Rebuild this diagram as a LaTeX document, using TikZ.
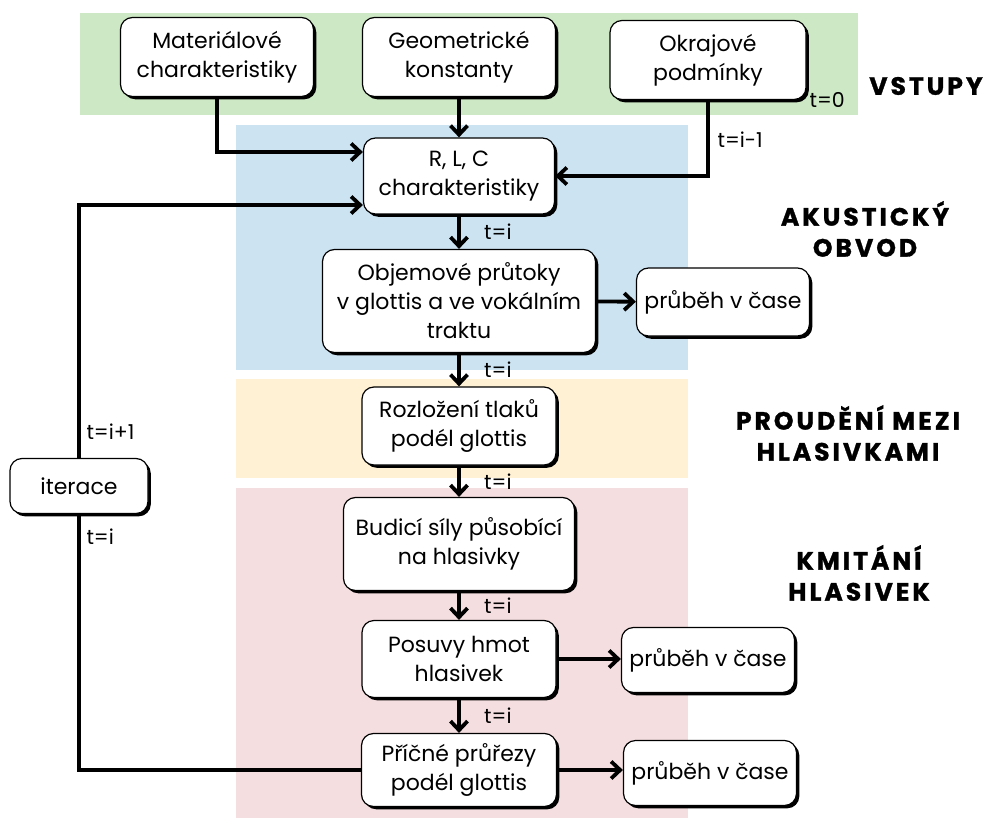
\documentclass[tikz,border=0pt]{standalone}
\usepackage{fontspec}
\setmainfont{Poppins}
\newfontfamily\headfont[LetterSpace=12, BoldFeatures={FakeBold=1.2}]{Poppins}
\usetikzlibrary{arrows.meta,shadows,positioning}

\definecolor{bggreen}{RGB}{205,232,196}
\definecolor{bgblue}{RGB}{204,228,242}
\definecolor{bgyellow}{RGB}{255,241,211}
\definecolor{bgpink}{RGB}{245,222,224}

\tikzset{
  box/.style={draw, line width=1.2pt, rounded corners=12pt, fill=white, align=center,
    font=\fontsize{22}{29}\selectfont, inner sep=1pt,
    drop shadow={shadow xshift=2.8pt, shadow yshift=-2.8pt, fill=black, opacity=1}},
  flow/.style={line width=3.8pt, -{Straight Barb[length=9pt, width=17pt]}},
  plain/.style={line width=3.8pt},
  tlab/.style={font=\fontsize{20.5}{22}\selectfont, anchor=west},
  head/.style={font=\headfont\bfseries\fontsize{25}{31}\selectfont, align=center},
}

\begin{document}
\begin{tikzpicture}[x=1pt, y=-1pt]
  \useasboundingbox (0,0) rectangle (987,818);

  % colour bands
  \fill[bggreen]  (80,13)  rectangle (858,115);
  \fill[bgblue]   (236,125) rectangle (688,370);
  \fill[bgyellow] (236,379) rectangle (688,478);
  \fill[bgpink]   (236,488) rectangle (688,818);

  % inputs
  \node[box, minimum width=193pt, minimum height=79pt] (mat) at (217,57) {Materiálové\\charakteristiky};
  \node[box, minimum width=193pt, minimum height=79pt] (geo) at (459,57) {Geometrické\\konstanty};
  \node[box, minimum width=196pt, minimum height=79pt] (okr) at (708,60) {Okrajové\\podmínky};

  % main column
  \node[box, minimum width=191pt, minimum height=76pt] (rlc) at (459,176) {R, L, C\\charakteristiky};
  \node[box, minimum width=273pt, minimum height=103pt] (obj) at (459,301) {Objemové průtoky\\v glottis a ve vokálním\\traktu};
  \node[box, minimum width=194pt, minimum height=78pt] (roz) at (459,426) {Rozložení tlaků\\podél glottis};
  \node[box, minimum width=231pt, minimum height=93pt] (bud) at (459,544) {Budicí síly působící\\na hlasivky};
  \node[box, minimum width=194pt, minimum height=77pt] (pos) at (459,659) {Posuvy hmot\\hlasivek};
  \node[box, minimum width=195pt, minimum height=73pt] (pri) at (459,770) {Příčné průřezy\\podél glottis};

  % outputs
  \node[box, minimum width=173pt, minimum height=68pt] (out1) at (723,302) {průběh v čase};
  \node[box, minimum width=173pt, minimum height=65pt] (out2) at (708,660) {průběh v čase};
  \node[box, minimum width=173pt, minimum height=65pt] (out3) at (710,773) {průběh v čase};

  \node[box, minimum width=138pt, minimum height=55pt] (iter) at (79,486) {iterace};

  % connectors
  \draw[flow] (mat.south) |- ([yshift=24pt]rlc.west);
  \draw[flow] (geo.south) -- (rlc.north);
  \draw[flow] (okr.south) |- (rlc.east);
  \draw[flow] (rlc) -- (obj) node[tlab, midway, xshift=20pt] {t=i};
  \draw[flow] (obj) -- (roz) node[tlab, midway, xshift=20pt] {t=i};
  \draw[flow] (roz) -- (bud) node[tlab, midway, xshift=20pt] {t=i};
  \draw[flow] (bud) -- (pos) node[tlab, midway, xshift=20pt] {t=i};
  \draw[flow] (pos) -- (pri) node[tlab, midway, xshift=20pt] {t=i};
  \draw[flow] (obj) -- (out1);
  \draw[flow] (pos.east) -- (out2.west |- pos.east);
  \draw[flow] (pri.east) -- (out3.west |- pri.east);
  \draw[flow] (iter.north) |- ([yshift=-29pt]rlc.west);
  \draw[plain] (iter.south) |- (pri.west);

  % time labels
  \node[tlab] (t0) at (806,100) {t=0};
  \node[tlab] (tprev) at (714,140) {t=i-1};
  \node[tlab] (tnext) at (83,432) {t=i+1};
  \node[tlab] (tcur) at (83,537) {t=i};

  % section titles
  \node[head] (h1) at (926,86) {VSTUPY};
  \node[head] (h2) at (865,229) {AKUSTICKÝ\\OBVOD};
  \node[head] (h3) at (848,433) {PROUDĚNÍ MEZI\\HLASIVKAMI};
  \node[head] (h4) at (859,573) {KMITÁNÍ\\HLASIVEK};
\end{tikzpicture}
\end{document}
